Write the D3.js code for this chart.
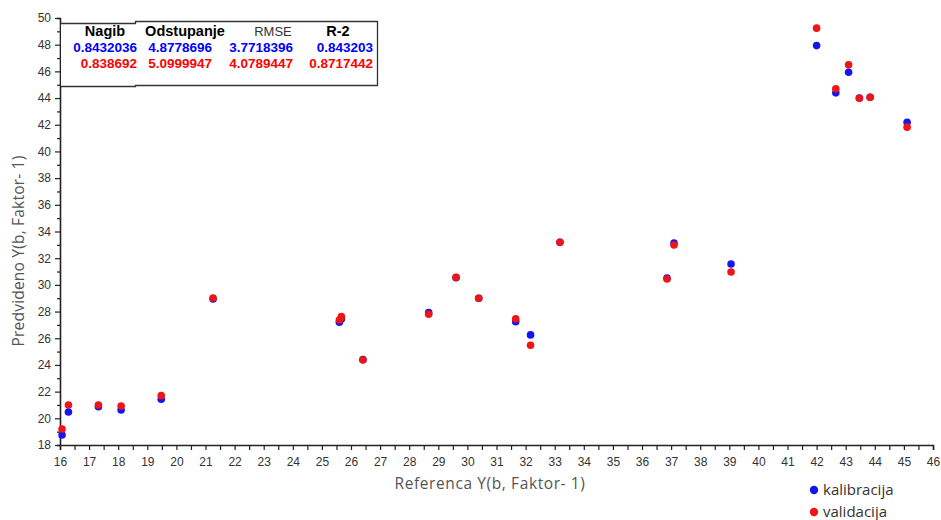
<!DOCTYPE html>
<html>
<head>
<meta charset="utf-8">
<script src="https://cdn.jsdelivr.net/npm/d3@7"></script>
<style>
  body { margin: 0; background: #fff; }
  svg { display: block; }
</style>
</head>
<body>
<svg id="chart" width="941" height="520"></svg>
<script>
// Reference values (x) and predicted values for calibration and validation
const refX = [16.07, 16.29, 17.32, 18.10, 19.48, 21.26, 25.60, 25.67, 26.41, 28.67,
              29.61, 30.39, 31.66, 32.17, 33.18, 36.86, 37.10, 39.06, 42.00, 42.66,
              43.10, 43.47, 43.84, 45.11];
const kalibracija = [18.75, 20.47, 20.87, 20.62, 21.43, 28.94, 27.20, 27.45, 24.41, 27.92,
                     30.54, 29.00, 27.24, 26.25, 33.20, 30.52, 33.14, 31.57, 47.93, 44.39,
                     45.94, 44.00, 44.06, 42.19];
const validacija = [19.20, 21.00, 21.00, 20.92, 21.70, 29.02, 27.37, 27.62, 24.37, 27.80,
                    30.57, 29.00, 27.45, 25.47, 33.20, 30.44, 32.99, 30.97, 49.24, 44.69,
                    46.49, 43.99, 44.06, 41.82];

// Statistics table
const statHeaders = ["Nagib", "Odstupanje", "RMSE", "R-2"];
const statKalibracija = ["0.8432036", "4.8778696", "3.7718396", "0.843203"];
const statValidacija = ["0.838692", "5.0999947", "4.0789447", "0.8717442"];

const seriesNames = ["kalibracija", "validacija"];
const seriesColors = ["#1414f5", "#f01414"];
const tableColors = ["#0000ff", "#ff0000"];

const xTicks = d3.range(16, 47, 1);
const yTicks = d3.range(18, 51, 2);

const svg = d3.select("#chart");
const plotLeft = 60, plotRight = 933, plotTop = 18, plotBottom = 445;

const x = d3.scaleLinear().domain([16, 46]).range([plotLeft, plotRight]);
const y = d3.scaleLinear().domain([18, 50]).range([plotBottom, plotTop]);

const axisColor = "#222";
const tickFont = "Liberation Sans, Arial, sans-serif";

// X axis: minor ticks at halves, labels on integers
const gx = svg.append("g").attr("transform", `translate(0,${plotBottom})`);
gx.call(d3.axisBottom(x).tickValues(d3.range(16, 46.01, 0.5)).tickSize(5).tickFormat(""));
const gxLabels = gx.append("g").call(d3.axisBottom(x).tickValues(xTicks).tickSize(0).tickPadding(12).tickFormat(d3.format("d")));
gxLabels.select("path.domain").remove();
gx.selectAll("path.domain").attr("stroke", axisColor).attr("stroke-width", 1.6);
gx.selectAll("line").attr("stroke", axisColor).attr("stroke-width", 1.2);
gx.selectAll("text").attr("fill", "#333").style("font-family", tickFont).style("font-size", "12px");

// Y axis: major every 2, minor every 1
const gy = svg.append("g").attr("transform", `translate(${plotLeft},0)`);
gy.call(d3.axisLeft(y).tickValues(d3.range(19, 50, 2)).tickSize(3).tickFormat(""));
const gyLabels = gy.append("g").call(d3.axisLeft(y).tickValues(yTicks).tickSize(5).tickPadding(4).tickFormat(d3.format("d")));
gyLabels.select("path.domain").remove();
gy.selectAll("path.domain").attr("stroke", axisColor).attr("stroke-width", 1.6);
gy.selectAll("line").attr("stroke", axisColor).attr("stroke-width", 1.2);
gy.selectAll("text").attr("fill", "#333").style("font-family", tickFont).style("font-size", "12px");

// Axis titles
const titleFont = "Open Sans, Noto Sans, sans-serif";
svg.append("text")
  .attr("x", 490).attr("y", 489)
  .attr("text-anchor", "middle")
  .style("font-family", titleFont).style("font-size", "15.5px").style("letter-spacing", "0.6px")
  .attr("fill", "#555")
  .text("Referenca Y(b, Faktor- 1)");
svg.append("text")
  .attr("transform", "translate(24,251) rotate(-90)")
  .attr("text-anchor", "middle")
  .style("font-family", titleFont).style("font-size", "15.5px").style("letter-spacing", "0.2px")
  .attr("fill", "#555")
  .text("Predvideno Y(b, Faktor- 1)");

// Points: calibration first, validation on top
const seriesData = [kalibracija, validacija];
seriesData.forEach((vals, s) => {
  svg.append("g").selectAll("circle")
    .data(vals)
    .join("circle")
    .attr("cx", (d, i) => x(refX[i]))
    .attr("cy", d => y(d))
    .attr("r", 3.8)
    .attr("fill", seriesColors[s]);
});

// Statistics box
const box = svg.append("g");
box.append("path")
  .attr("d", "M61,23.5 H135.5 V21.5 H377.5 V85.5 H135.5 V86.5 H61")
  .attr("fill", "#fff").attr("stroke", "#333").attr("stroke-width", 1.3);

const headX = [105, 185, 273, 338];
const valRight = [137, 212, 293, 373];
const tableFont = "Liberation Sans, Arial, sans-serif";
box.selectAll("text.head")
  .data(statHeaders)
  .join("text")
  .attr("class", "head")
  .attr("x", (d, i) => headX[i]).attr("y", 36)
  .attr("text-anchor", "middle")
  .style("font-family", tableFont)
  .style("font-size", (d, i) => i === 2 ? "13px" : "14.5px")
  .style("font-weight", (d, i) => i === 2 ? "normal" : "bold")
  .attr("fill", (d, i) => i === 2 ? "#333" : "#000")
  .text(d => d);

[statKalibracija, statValidacija].forEach((row, r) => {
  box.selectAll(`text.row${r}`)
    .data(row)
    .join("text")
    .attr("class", `row${r}`)
    .attr("x", (d, i) => valRight[i]).attr("y", 52 + r * 16)
    .attr("text-anchor", "end")
    .style("font-family", tableFont)
    .style("font-size", "13.5px")
    .style("font-weight", "bold")
    .attr("fill", tableColors[r])
    .text(d => d);
});

// Legend
const legend = svg.append("g");
seriesNames.forEach((name, i) => {
  const ly = 490 + i * 22;
  legend.append("circle").attr("cx", 814).attr("cy", ly).attr("r", 4.2).attr("fill", seriesColors[i]);
  legend.append("text")
    .attr("x", 823).attr("y", ly + 5)
    .style("font-family", titleFont).style("font-size", "15px").attr("fill", "#333")
    .text(name);
});
</script>
</body>
</html>
